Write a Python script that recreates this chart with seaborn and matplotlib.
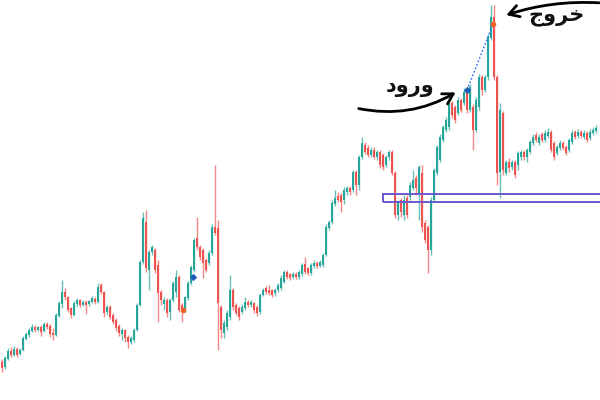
import matplotlib
matplotlib.use("Agg")
import matplotlib.pyplot as plt
from matplotlib.patches import Rectangle
import numpy as np
import pandas as pd
import seaborn as sns

# candle values (price units, one entry per candle)
opens = [38, 33, 41, 49, 45, 51, 46, 50, 61, 65,
         69, 73, 70, 73, 69, 76, 74, 67, 65, 84,
         96, 108, 103, 92, 85, 96, 100, 95, 98, 96,
         98, 101, 98, 115, 108, 88, 93, 85, 80, 74,
         66, 70, 63, 58, 60, 70, 95, 138, 178, 130,
         148, 150, 135, 108, 96, 100, 88, 100, 108, 123,
         95, 90, 102, 117, 130, 162, 153, 150, 140, 137,
         147, 173, 172, 93, 67, 73, 83, 110, 95, 92,
         88, 92, 98, 95, 97, 93, 88, 105, 112, 110,
         110, 107, 110, 112, 118, 128, 126, 123, 126, 123,
         126, 136, 132, 127, 134, 137, 134, 135, 145, 172,
         178, 196, 204, 205, 200, 208, 212, 210, 228, 215,
         243, 255, 252, 245, 250, 243, 248, 245, 235, 243,
         248, 227, 185, 200, 185, 202, 203, 212, 222, 207,
         227, 177, 173, 150, 200, 227, 240, 260, 270, 273,
         297, 293, 287, 300, 297, 310, 290, 293, 270, 293,
         323, 310, 323, 362, 383, 323, 228, 287, 227, 238,
         233, 238, 235, 243, 248, 243, 248, 257, 265, 257,
         266, 260, 264, 268, 257, 247, 252, 257, 253, 250,
         258, 268, 264, 268, 263, 267, 262, 267, 269]
closes = [32, 42, 49, 45, 51, 45, 50, 62, 66, 70,
          73, 70, 73, 68, 76, 73, 66, 65, 85, 97,
          108, 103, 90, 85, 97, 100, 95, 98, 95, 99,
          102, 98, 113, 108, 87, 93, 83, 78, 72, 67,
          70, 62, 58, 62, 70, 95, 138, 182, 132, 148,
          153, 130, 107, 100, 100, 87, 100, 117, 123, 90,
          89, 103, 117, 133, 160, 153, 143, 137, 130, 147,
          173, 167, 97, 70, 77, 87, 110, 93, 87, 83,
          93, 98, 95, 98, 90, 87, 105, 110, 108, 107,
          105, 110, 115, 122, 128, 123, 122, 126, 123, 128,
          135, 128, 127, 135, 137, 134, 138, 145, 173, 178,
          197, 202, 200, 198, 210, 212, 208, 228, 215, 243,
          257, 248, 245, 250, 243, 248, 235, 233, 243, 248,
          227, 185, 198, 188, 200, 185, 215, 220, 212, 233,
          173, 160, 150, 200, 230, 253, 263, 273, 280, 297,
          285, 280, 300, 290, 308, 290, 313, 270, 300, 323,
          310, 323, 363, 383, 323, 227, 290, 230, 238, 232,
          238, 225, 247, 248, 243, 250, 258, 263, 260, 263,
          260, 267, 268, 250, 243, 253, 257, 252, 247, 260,
          267, 263, 268, 264, 267, 260, 268, 270, 272]
highs = [41, 44, 52, 53, 54, 53, 52, 64, 68, 72,
         76, 75, 74, 75, 78, 78, 76, 72, 87, 99,
         120, 112, 104, 93, 99, 102, 101, 100, 100, 100,
         104, 103, 117, 117, 109, 95, 95, 87, 82, 76,
         72, 71, 65, 64, 72, 97, 140, 188, 190, 150,
         155, 152, 140, 110, 103, 102, 102, 119, 130, 125,
         97, 104, 119, 135, 162, 183, 155, 152, 142, 150,
         176, 235, 180, 95, 80, 90, 125, 112, 97, 94,
         96, 103, 100, 100, 98, 95, 107, 112, 114, 115,
         111, 112, 117, 125, 130, 130, 127, 128, 128, 130,
         137, 143, 133, 137, 140, 139, 140, 147, 176, 180,
         200, 210, 208, 207, 213, 214, 214, 230, 230, 245,
         263, 258, 255, 253, 253, 250, 250, 247, 245, 250,
         250, 229, 200, 202, 205, 205, 218, 230, 225, 235,
         235, 180, 175, 203, 232, 255, 266, 275, 283, 300,
         299, 295, 303, 302, 312, 313, 316, 296, 303, 326,
         325, 325, 366, 395, 395, 325, 297, 289, 240, 242,
         240, 240, 249, 250, 250, 252, 260, 266, 268, 266,
         268, 270, 272, 270, 259, 255, 260, 259, 255, 262,
         270, 270, 271, 270, 270, 269, 271, 273, 275]
lows = [28, 31, 40, 43, 44, 43, 45, 49, 60, 63,
        68, 68, 69, 64, 68, 71, 63, 60, 64, 83,
        92, 100, 88, 82, 84, 94, 93, 94, 86, 94,
        97, 96, 97, 106, 83, 85, 81, 76, 69, 64,
        60, 58, 52, 56, 58, 69, 94, 136, 128, 110,
        145, 127, 78, 95, 90, 83, 80, 98, 103, 88,
        78, 88, 100, 115, 128, 150, 140, 122, 128, 135,
        145, 165, 50, 62, 62, 70, 80, 90, 85, 80,
        86, 90, 93, 93, 87, 84, 86, 104, 106, 105,
        103, 104, 108, 110, 117, 121, 120, 121, 121, 121,
        124, 126, 125, 125, 132, 132, 133, 133, 144, 170,
        176, 194, 198, 188, 196, 205, 205, 208, 205, 210,
        241, 246, 243, 243, 241, 240, 232, 230, 233, 240,
        225, 182, 180, 183, 180, 182, 200, 210, 205, 180,
        168, 157, 127, 145, 198, 225, 238, 258, 268, 270,
        282, 277, 285, 288, 295, 287, 288, 250, 268, 290,
        305, 308, 320, 360, 320, 215, 202, 225, 225, 228,
        230, 222, 230, 240, 240, 238, 246, 255, 258, 255,
        258, 258, 262, 248, 240, 245, 250, 250, 245, 248,
        256, 261, 262, 262, 261, 258, 260, 265, 267]

# trade markers (candle index, price)
entry_marks = [63.7, 155.0]
entry_prices = [123, 310]
exit_marks = [60.3, 163.7]
exit_prices = [90, 376]

# support zone
zone_start = 127
zone_low, zone_high = 198, 206

entry_label = "ورود"
exit_label = "خروج"

UP = "#26a69a"
DOWN = "#ef5350"

# matplotlib has no arabic shaping, so pick presentation forms by hand
# (isolated, final, initial, medial); None means the letter never joins forward
FORMS = {
    "و": ("\ufeed", "\ufeee", None, None),
    "ر": ("\ufead", "\ufeae", None, None),
    "د": ("\ufea9", "\ufeaa", None, None),
    "خ": ("\ufea5", "\ufea6", "\ufea7", "\ufea8"),
    "ج": ("\ufe9d", "\ufe9e", "\ufe9f", "\ufea0"),
}


def shape_rtl(word):
    out = []
    for k, ch in enumerate(word):
        iso, fin, ini, med = FORMS[ch]
        prev_joins = k > 0 and FORMS[word[k - 1]][2] is not None
        next_joins = k < len(word) - 1 and ini is not None
        if prev_joins and next_joins:
            out.append(med)
        elif prev_joins:
            out.append(fin)
        elif next_joins:
            out.append(ini)
        else:
            out.append(iso)
    return "".join(reversed(out))


df = pd.DataFrame({"open": opens, "close": closes, "high": highs, "low": lows})
df["idx"] = np.arange(len(df))
df["up"] = df["close"] >= df["open"]
df["color"] = np.where(df["up"], UP, DOWN)

sns.set_theme(style="white")
fig = plt.figure(figsize=(6, 4), dpi=100)
ax = fig.add_axes([0, 0, 1, 1])

# wicks
ax.vlines(df["idx"], df["low"], df["high"], colors=df["color"], lw=1.0, alpha=0.7)
# bodies
body = (df["close"] - df["open"]).abs().clip(lower=1.5)
ax.bar(df["idx"], body, bottom=df[["open", "close"]].min(axis=1),
       width=0.8, color=df["color"], linewidth=0)

# dotted link from entry to exit
ax.plot([entry_marks[1], exit_marks[1]], [entry_prices[1], exit_prices[1]],
        ls=(0, (1.2, 1.5)), color="#2962ff", lw=1)
sns.scatterplot(x=entry_marks, y=entry_prices, ax=ax, marker="D", s=14,
                color="#1e5bb8", linewidth=0, zorder=5)
sns.scatterplot(x=exit_marks, y=exit_prices, ax=ax, marker="o", s=16,
                color="#f0642c", linewidth=0, zorder=5)

# zone box
ax.add_patch(Rectangle((zone_start, zone_low), len(df) + 5 - zone_start,
                       zone_high - zone_low, fill=False, ec="#6a5acd", lw=1.4, zorder=6))

# hand drawn arrows + labels
ax.annotate("", xy=(entry_marks[1] - 3, entry_prices[1] - 1),
            xytext=(entry_marks[1] - 37, entry_prices[1] - 18),
            arrowprops=dict(arrowstyle="->,head_length=0.6,head_width=0.35",
                            lw=2, color="black", connectionstyle="arc3,rad=0.2"))
ax.text(entry_marks[1] - 19, entry_prices[1] + 3, shape_rtl(entry_label),
        fontsize=15, fontweight="bold", ha="center", va="center", color="#111111")

ax.annotate("", xy=(exit_marks[1] + 3.5, exit_prices[1] + 8),
            xytext=(len(df) + 1, 397),
            arrowprops=dict(arrowstyle="->,head_length=0.6,head_width=0.35",
                            lw=2, color="black", connectionstyle="arc3,rad=0.1"))
ax.text(exit_marks[1] + 21, exit_prices[1] + 8, shape_rtl(exit_label),
        fontsize=15, fontweight="bold", ha="center", va="center", color="#111111")

ax.set_xlim(-0.67, len(df) + 0.33)
ax.set_ylim(0, 400)
ax.axis("off")

fig.savefig("out.png", dpi=100, facecolor="white")
